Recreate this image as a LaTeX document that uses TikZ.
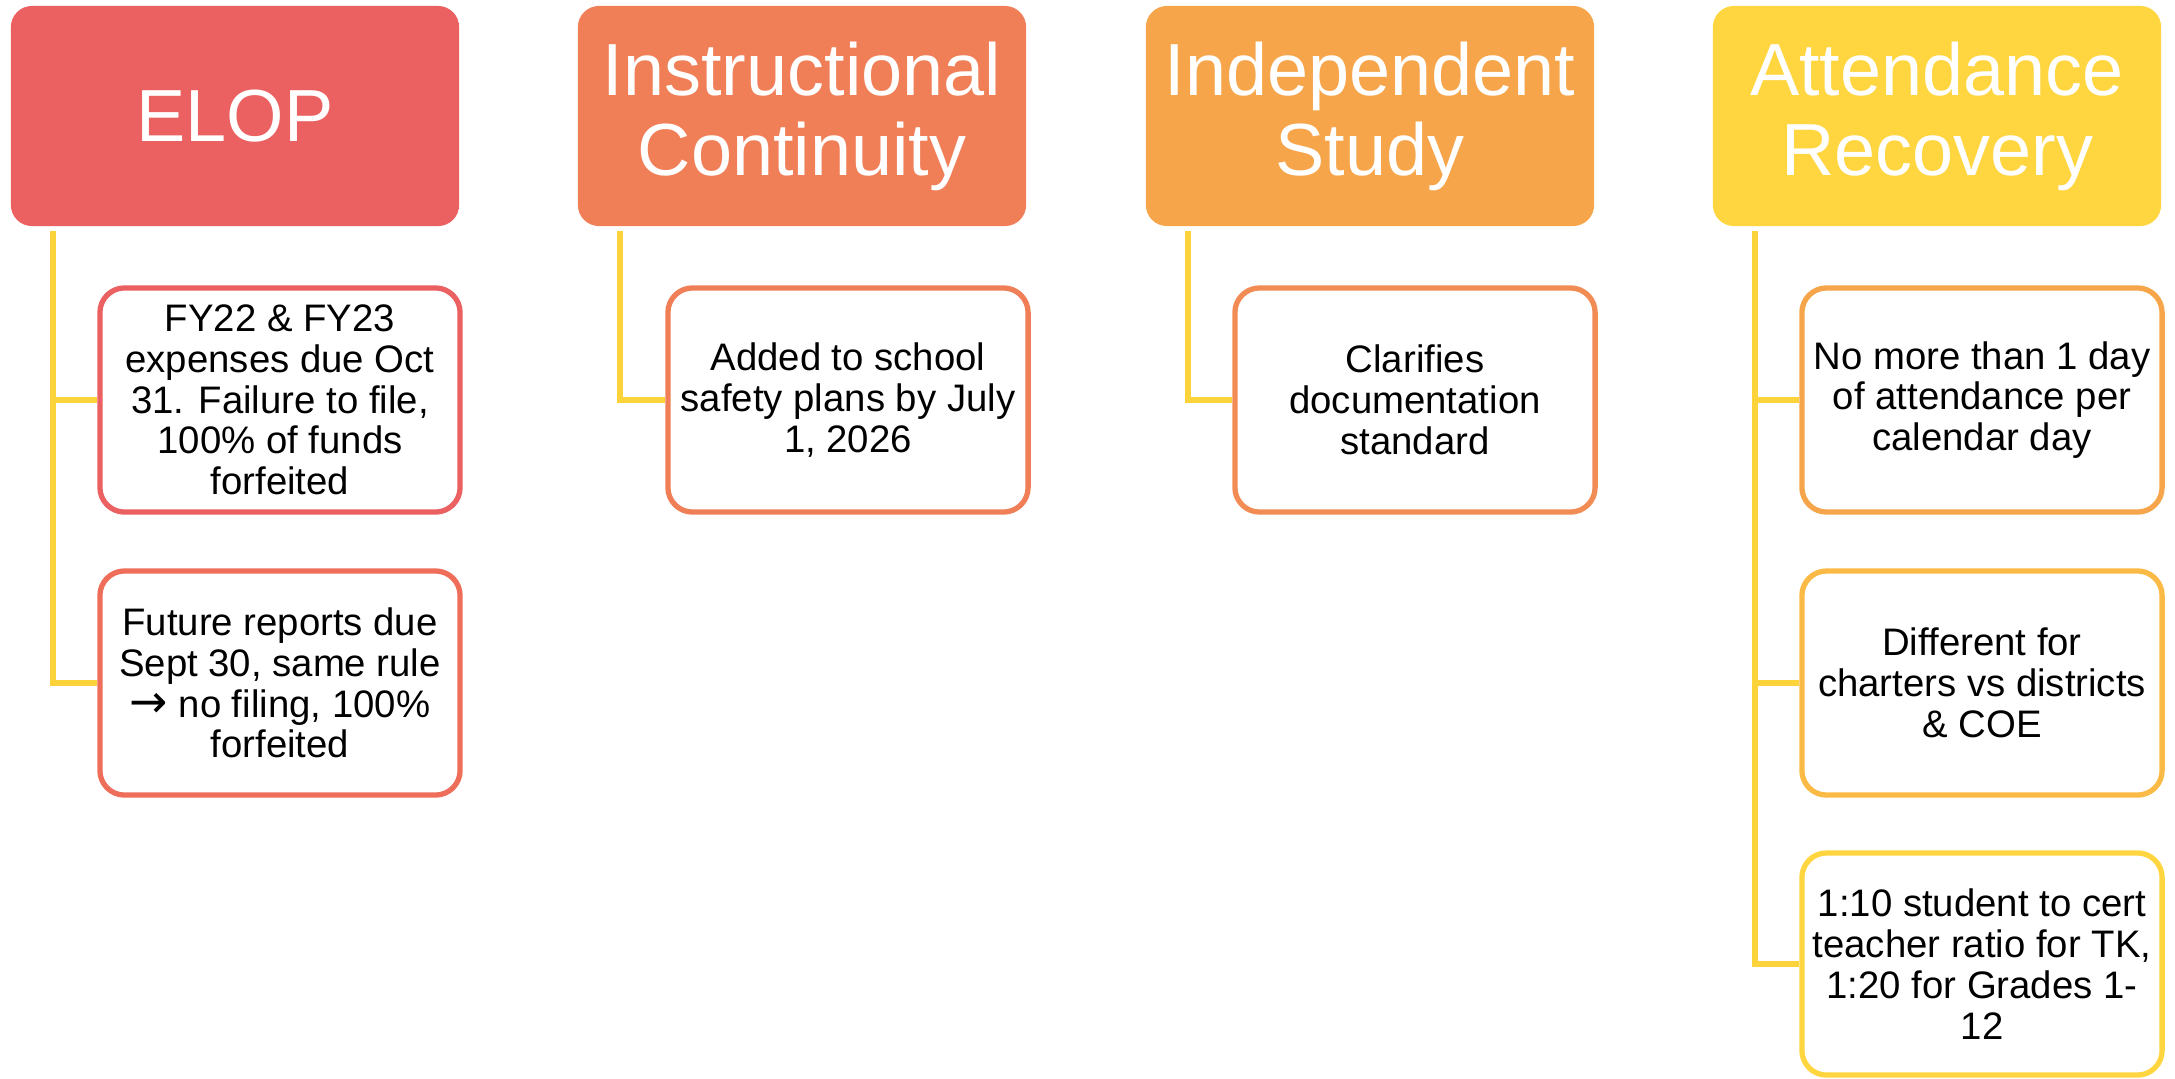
\documentclass[tikz,border=0pt]{standalone}
\usepackage{fontspec}
\setmainfont{Liberation Sans}
\newfontfamily\arrowfont{DejaVu Sans}
\definecolor{elopred}{RGB}{235, 96, 96}
\definecolor{elopred2}{RGB}{238, 110, 90}
\definecolor{instorange}{RGB}{240, 127, 87}
\definecolor{indorange}{RGB}{242, 140, 85}
\definecolor{indlight}{RGB}{247, 165, 74}
\definecolor{attamber}{RGB}{251, 186, 69}
\definecolor{attyellow}{RGB}{255, 213, 64}
\definecolor{linkyellow}{RGB}{253, 211, 59}
\usetikzlibrary{positioning, calc}

\tikzset{
  head/.style={rectangle, rounded corners=6pt, minimum width=4.48cm, minimum height=2.2cm,
    text=white, align=center, font=\fontsize{21}{22.8}\selectfont, inner sep=0pt},
  item/.style={rectangle, rounded corners=7pt, draw, line width=1.5pt, fill=white,
    minimum width=3.6cm, minimum height=2.24cm, align=center,
    font=\fontsize{10.9}{11.6}\selectfont, inner sep=0pt},
  link/.style={draw=linkyellow, line width=1.8pt}
}

\begin{document}
\begin{tikzpicture}[x=0.01cm, y=-0.01cm]
  \useasboundingbox (0, 0) rectangle (2175, 1078);

  % Headers
  \node[head, fill=elopred] (elop) at (235, 116) {ELOP};
  \node[head, fill=instorange] (inst) at (802, 116) {Instructional\\Continuity};
  \node[head, fill=indlight] (indep) at (1370, 116) {Independent\\Study};
  \node[head, fill=attyellow] (attend) at (1937, 116) {Attendance\\Recovery};

  % Links
  \coordinate (elopL) at ($(elop.south west)+(43, 4)$);
  \coordinate (instL) at ($(inst.south west)+(43, 4)$);
  \coordinate (indepL) at ($(indep.south west)+(43, 4)$);
  \coordinate (attendL) at ($(attend.south west)+(43, 4)$);

  % ELOP items
  \node[item, draw=elopred] (elopA) at (280, 400) {FY22 \& FY23\\expenses due Oct\\31. Failure to file,\\100\% of funds\\forfeited};
  \node[item, draw=elopred2] (elopB) at (280, 683) {Future reports due\\Sept 30, same rule\\{\arrowfont\fontsize{13}{11.6}\selectfont →} no filing, 100\%\\forfeited};

  % Instructional continuity item
  \node[item, draw=instorange] (instA) at (848, 400) {Added to school\\safety plans by July\\1, 2026};

  % Independent study item
  \node[item, draw=indorange] (indepA) at (1415, 400) {Clarifies\\documentation\\standard};

  % Attendance recovery items
  \node[item, draw=indlight] (attA) at (1982, 400) {No more than 1 day\\of attendance per\\calendar day};
  \node[item, draw=attamber] (attB) at (1982, 683) {Different for\\charters vs districts\\\& COE};
  \node[item, draw=attyellow, minimum height=2.22cm] (attC) at (1982, 964) {1:10 student to cert\\teacher ratio for TK,\\1:20 for Grades 1-\\12};

  \draw[link] (elopL) |- (elopA.west);
  \draw[link] (elopL) |- (elopB.west);
  \draw[link] (instL) |- (instA.west);
  \draw[link] (indepL) |- (indepA.west);
  \draw[link] (attendL) |- (attA.west);
  \draw[link] (attendL) |- (attB.west);
  \draw[link] (attendL) |- (attC.west);
\end{tikzpicture}
\end{document}
